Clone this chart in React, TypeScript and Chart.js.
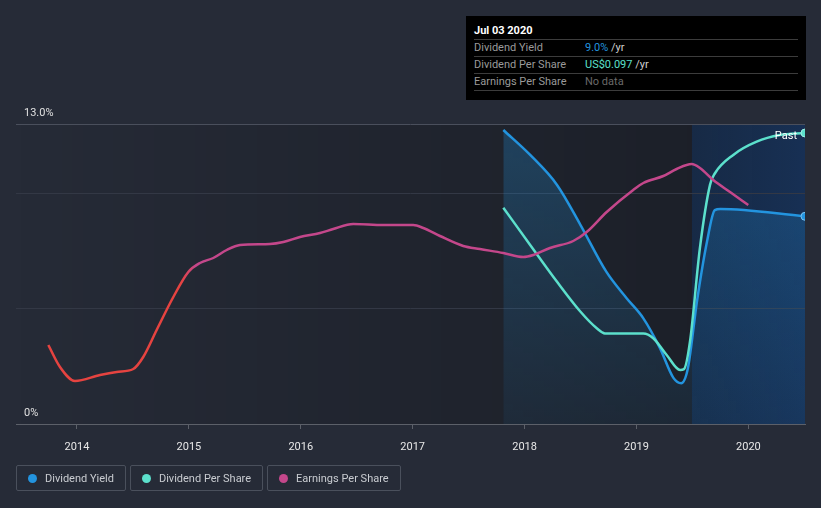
import React, { useEffect, useRef } from 'react';
import { Chart, registerables } from 'chart.js';

Chart.register(...registerables);

// ---- data ----
const yearTicks = [2014, 2015, 2016, 2017, 2018, 2019, 2020];
const xMin = 2013.455;
const xMax = 2020.506;
const pastStart = 2019.496;

// Dividend Yield (%)
const yieldX = [2017.81, 2018.05, 2018.29, 2018.5, 2018.73, 2018.91, 2019.06, 2019.21, 2019.33, 2019.4, 2019.46, 2019.54, 2019.63, 2019.7, 2019.75, 2020.506];
const yieldY = [12.74, 11.66, 10.36, 8.62, 6.6, 5.46, 4.59, 3.29, 2.0, 1.77, 2.43, 5.3, 7.9, 9.27, 9.32, 9.0];

// Dividend Per Share (US$)
const dpsX = [2017.81, 2018.05, 2018.29, 2018.5, 2018.645, 2018.718, 2019.061, 2019.15, 2019.27, 2019.39, 2019.425, 2019.478, 2019.567, 2019.657, 2019.7, 2019.865, 2020.074, 2020.282, 2020.506];
const dpsY = [0.0721, 0.0597, 0.0474, 0.0374, 0.0319, 0.0302, 0.0302, 0.0286, 0.023, 0.018, 0.0183, 0.0274, 0.0587, 0.0797, 0.0835, 0.0897, 0.0941, 0.0963, 0.097];

// Earnings Per Share (relative units)
const epsX = [2013.744, 2013.848, 2013.982, 2014.206, 2014.355, 2014.503, 2014.592, 2014.712, 2014.861, 2014.995, 2015.099, 2015.218, 2015.338, 2015.457, 2015.725, 2015.844, 2015.993, 2016.172, 2016.29, 2016.469, 2016.737, 2017.005, 2017.095, 2017.244, 2017.452, 2017.601, 2017.81, 2017.988, 2018.078, 2018.227, 2018.435, 2018.555, 2018.734, 2018.971, 2019.061, 2019.24, 2019.359, 2019.493, 2019.567, 2019.686, 2019.836, 2019.999];
const epsY = [0.079, 0.057, 0.043, 0.049, 0.052, 0.055, 0.067, 0.094, 0.127, 0.152, 0.161, 0.166, 0.174, 0.179, 0.18, 0.182, 0.187, 0.191, 0.195, 0.2, 0.199, 0.199, 0.196, 0.188, 0.178, 0.175, 0.171, 0.167, 0.169, 0.176, 0.183, 0.192, 0.212, 0.234, 0.241, 0.248, 0.255, 0.26, 0.256, 0.244, 0.232, 0.219];

const BLUE = '#2394df';
const TEAL = '#5ce0cc';
const MAGENTA = '#c4478b';
const RED = '#e64340';
const BG = '#262b37';
const FONT = 'Roboto, "Noto Sans", sans-serif';

const pts = (xs: number[], ys: number[]) => xs.map((x, i) => ({ x, y: ys[i] }));

const bgPlugin = {
  id: 'bgPlugin',
  beforeDraw(chart: any) {
    const { ctx, chartArea: a, scales } = chart;
    if (!a) return;
    ctx.save();
    const g = ctx.createLinearGradient(a.left, 0, a.right, 0);
    g.addColorStop(0, 'rgba(0,0,0,0)');
    g.addColorStop(1, 'rgba(0,0,0,0.3)');
    ctx.fillStyle = g;
    ctx.fillRect(a.left, a.top, a.right - a.left, a.bottom - a.top);
    const px = scales.x.getPixelForValue(pastStart);
    const g2 = ctx.createLinearGradient(px, 0, a.right, 0);
    g2.addColorStop(0, 'rgba(15,60,118,0.38)');
    g2.addColorStop(1, 'rgba(20,70,140,0.45)');
    ctx.fillStyle = g2;
    ctx.fillRect(px, a.top, a.right - px, a.bottom - a.top);
    ctx.restore();
  },
  afterDatasetsDraw(chart: any) {
    const { ctx, chartArea: a } = chart;
    ctx.save();
    ctx.fillStyle = '#ffffff';
    ctx.font = '11px ' + FONT;
    ctx.textAlign = 'right';
    ctx.textBaseline = 'middle';
    ctx.fillText('Past', a.right - 8, a.top + 12);
    ctx.restore();
  },
};

const lastRadius = (n: number) => (c: any) => (c.dataIndex === n - 1 ? 4 : 0);

export default function App() {
  const ref = useRef<HTMLCanvasElement | null>(null);

  useEffect(() => {
    document.body.style.margin = '0';
    document.body.style.background = BG;
    const canvas = ref.current!;
    const chart = new Chart(canvas, {
      type: 'line',
      data: {
        datasets: [
          {
            label: 'Earnings Per Share',
            data: pts(epsX, epsY),
            yAxisID: 'yEps',
            borderColor: (c: any) => {
              const ch = c.chart;
              const a = ch.chartArea;
              if (!a) return MAGENTA;
              const x0 = ch.scales.x.getPixelForValue(2014.93);
              const x1 = ch.scales.x.getPixelForValue(2015.06);
              const g = ch.ctx.createLinearGradient(x0, 0, x1, 0);
              g.addColorStop(0, RED);
              g.addColorStop(1, MAGENTA);
              return g;
            },
            borderWidth: 2.5,
            pointRadius: 0,
            fill: false,
            cubicInterpolationMode: 'monotone',
            order: 1,
          },
          {
            label: 'Dividend Per Share',
            data: pts(dpsX, dpsY),
            yAxisID: 'yDps',
            borderColor: TEAL,
            backgroundColor: TEAL,
            pointBackgroundColor: TEAL,
            pointBorderColor: '#9ff0e4',
            pointBorderWidth: 1,
            borderWidth: 2.5,
            pointRadius: lastRadius(dpsX.length),
            fill: false,
            cubicInterpolationMode: 'monotone',
            order: 2,
          },
          {
            label: 'Dividend Yield',
            data: pts(yieldX, yieldY),
            yAxisID: 'y',
            borderColor: BLUE,
            pointBackgroundColor: BLUE,
            pointBorderColor: '#7cc4f0',
            pointBorderWidth: 1,
            backgroundColor: (c: any) => {
              const a = c.chart.chartArea;
              if (!a) return 'rgba(35,148,223,0.2)';
              const g = c.chart.ctx.createLinearGradient(0, a.top, 0, a.bottom);
              g.addColorStop(0, 'rgba(35,148,223,0.28)');
              g.addColorStop(1, 'rgba(35,148,223,0.07)');
              return g;
            },
            borderWidth: 2.5,
            pointRadius: lastRadius(yieldX.length),
            fill: 'origin',
            cubicInterpolationMode: 'monotone',
            order: 3,
          },
        ],
      },
      options: {
        animation: false,
        responsive: false,
        maintainAspectRatio: false,
        events: [],
        layout: { padding: { left: 16, right: 16, top: 124, bottom: 54 } },
        plugins: { legend: { display: false }, tooltip: { enabled: false } },
        scales: {
          x: {
            type: 'linear',
            min: xMin,
            max: xMax,
            afterBuildTicks: (ax: any) => {
              ax.ticks = yearTicks.map((v) => ({ value: v }));
            },
            afterFit: (ax: any) => {
              ax.height = 30;
            },
            ticks: {
              callback: (v: any) => String(v),
              color: '#e8e8e8',
              font: { family: FONT, size: 11 },
              padding: 12,
              maxRotation: 0,
              autoSkip: false,
            },
            grid: { drawOnChartArea: false, drawTicks: true, tickLength: 5, color: '#5c6069' },
            border: { display: true, color: '#5c6069', width: 1 },
          },
          y: {
            min: 0,
            max: 13,
            afterBuildTicks: (ax: any) => {
              ax.ticks = [0, 5, 10, 13].map((v) => ({ value: v }));
            },
            afterFit: (ax: any) => {
              ax.width = 0;
            },
            ticks: {
              mirror: true,
              padding: 8,
              labelOffset: -11,
              color: '#e0e0e0',
              font: { family: FONT, size: 11 },
              callback: (v: any) => (v === 13 ? '13.0%' : v === 0 ? '0%' : ''),
            },
            grid: {
              drawTicks: false,
              color: (c: any) =>
                c.tick && c.tick.value === 13 ? '#4a4f5c' : c.tick && c.tick.value === 0 ? 'rgba(0,0,0,0)' : '#333845',
            },
            border: { display: false },
          },
          yDps: { display: false, min: 0, max: 0.1 },
          yEps: { display: false, min: 0, max: 0.3 },
        },
      },
      plugins: [bgPlugin],
    } as any);
    return () => chart.destroy();
  }, []);

  const legendItems = [
    { label: 'Dividend Yield', color: BLUE },
    { label: 'Dividend Per Share', color: TEAL },
    { label: 'Earnings Per Share', color: MAGENTA },
  ];

  const rowStyle: React.CSSProperties = {
    height: 16,
    lineHeight: '16px',
    borderBottom: '1px solid #3c3c3c',
    display: 'flex',
    fontSize: 11,
  };
  const labelStyle: React.CSSProperties = { width: 111, color: '#9a9a9a' };

  return (
    <div style={{ position: 'fixed', left: 0, top: 0, width: 821, height: 508, background: BG, fontFamily: FONT }}>
      <canvas ref={ref} width={821} height={508} style={{ position: 'absolute', left: 0, top: 0, width: 821, height: 508 }} />
      <div
        style={{
          position: 'absolute',
          left: 466,
          top: 16,
          width: 340,
          height: 84,
          background: '#000',
          boxSizing: 'border-box',
          padding: '0 8px',
        }}
      >
        <div style={{ height: 24, boxSizing: 'border-box', paddingTop: 8, lineHeight: '14px', fontSize: 11, fontWeight: 700, color: '#fff', borderBottom: '1px solid #3c3c3c' }}>
          Jul 03 2020
        </div>
        <div style={rowStyle}>
          <span style={labelStyle}>Dividend Yield</span>
          <span style={{ color: BLUE }}>9.0%</span>
          <span style={{ color: '#cfcfcf' }}>&nbsp;/yr</span>
        </div>
        <div style={rowStyle}>
          <span style={labelStyle}>Dividend Per Share</span>
          <span style={{ color: TEAL }}>US$0.097</span>
          <span style={{ color: '#cfcfcf' }}>&nbsp;/yr</span>
        </div>
        <div style={rowStyle}>
          <span style={labelStyle}>Earnings Per Share</span>
          <span style={{ color: '#6a6a6a' }}>No data</span>
        </div>
      </div>
      <div style={{ position: 'absolute', left: 16, top: 465, display: 'flex', gap: 4 }}>
        {legendItems.map((it) => (
          <div
            key={it.label}
            style={{
              height: 26,
              boxSizing: 'border-box',
              border: '1px solid #4a505c',
              borderRadius: 2,
              display: 'flex',
              alignItems: 'center',
              padding: '0 11px 0 11px',
              color: '#c9ccd1',
              fontSize: 11,
            }}
          >
            <span style={{ width: 9, height: 9, borderRadius: '50%', background: it.color, marginRight: 8, display: 'inline-block' }} />
            {it.label}
          </div>
        ))}
      </div>
    </div>
  );
}
